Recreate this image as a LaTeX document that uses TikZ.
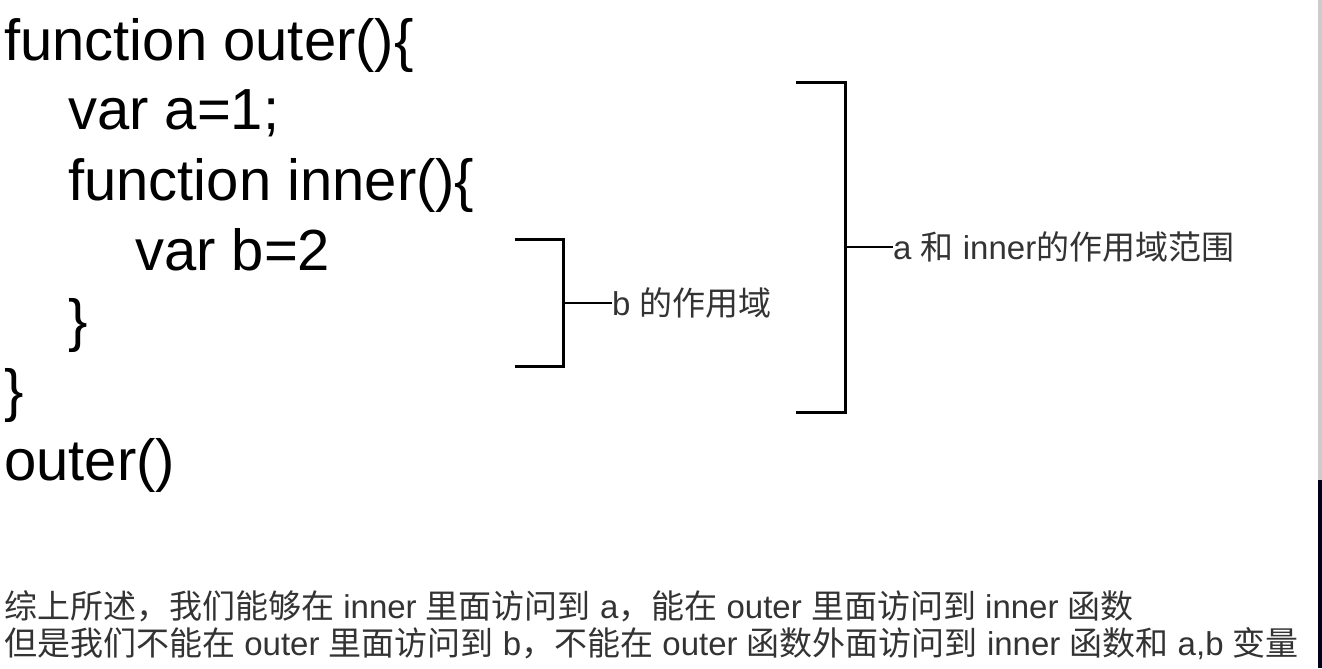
\documentclass[tikz,border=0pt]{standalone}
\usepackage{fontspec}
\setmainfont{Liberation Sans}
\newfontfamily\cjk{Noto Sans CJK SC}
\newcommand\zh[1]{{\cjk #1}}
\usetikzlibrary{positioning}

\begin{document}
\begin{tikzpicture}
	[x=1bp, y=-1bp, inner sep=0pt,
	code/.style		= {anchor=base west, font=\fontsize{58bp}{70bp}\selectfont},
	note/.style		= {anchor=west, text=black!80, font=\fontsize{33bp}{37bp}\selectfont},
	remark/.style	= {anchor=base west, text=black!80, font=\fontsize{33bp}{37bp}\selectfont},
	bracket/.style	= {draw, line width=3bp},
	tick/.style		= {draw, line width=2.5bp}]

	\useasboundingbox (0,0) rectangle (1322,668);

	% code lines
	\node [code]	at (4,61)		(l1)	{function outer()\{};
	\node [code]	at (68,130)		(l2)	{var a=1;};
	\node [code]	at (68,200)		(l3)	{function inner()\{};
	\node [code]	at (135,270)	(l4)	{var b=2};
	\node [code]	at (68,340)		(l5)	{\}};
	\node [code]	at (4,410)		(l6)	{\}};
	\node [code]	at (4,480)		(l7)	{outer()};

	% brackets
	\draw [bracket] (515,239) -- (563,239) -- (563,366) -- (515,366);
	\coordinate (bm) at (563,303);
	\node [note]	[right = 49bp of bm]	(bnote)	{b \zh{的作用域}};
	\draw [tick] (bm) -- (bnote);

	\draw [bracket] (796,83) -- (845,83) -- (845,412) -- (796,412);
	\coordinate (am) at (845,247);
	\node [note]	[right = 48bp of am]	(anote)	{a \zh{和} inner\zh{的作用域范围}};
	\draw [tick] (am) -- (anote);

	% summary
	\node [remark]	at (4,618)	(s1)	{\zh{综上所述，我们能够在} inner \zh{里面访问到} a\zh{，能在} outer \zh{里面访问到} inner \zh{函数}};
	\node [remark]	at (4,655)	(s2)	{\zh{但是我们不能在} outer \zh{里面访问到} b\zh{，不能在} outer \zh{函数外面访问到} inner \zh{函数和} a,b \zh{变量}};

	% window edge
	\fill [black!20] (1318,0) rectangle (1322,668);
	\fill [black!90!blue] (1318,480) rectangle (1322,668);
\end{tikzpicture}
\end{document}
